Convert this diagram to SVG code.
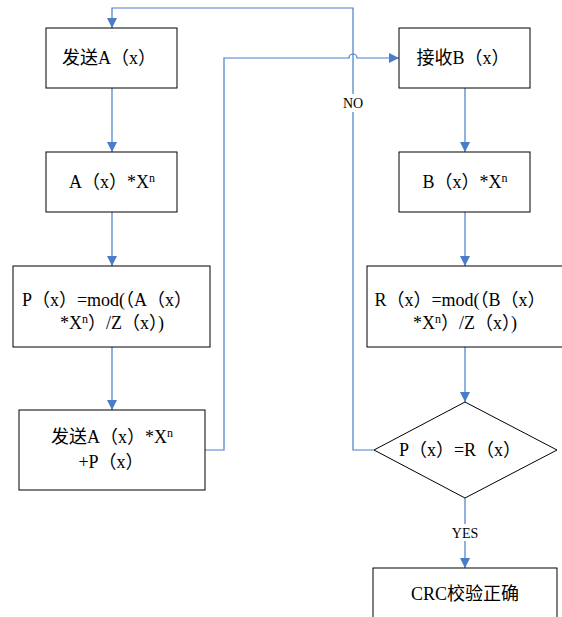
<svg xmlns="http://www.w3.org/2000/svg" width="562" height="617" viewBox="0 0 562 617">
<style>
.box{fill:#fff;stroke:#000;stroke-width:1}
.t{font-family:"Liberation Serif","Noto Sans CJK SC",serif;font-size:18px;fill:#000;text-anchor:middle}
.lbl{font-family:"Liberation Serif",serif;font-size:14px;fill:#000;text-anchor:middle}
.c{fill:none;stroke:#4a7cc9;stroke-width:1.2}
.sup{font-size:12px}
</style>
<defs>
<marker id="ah" viewBox="0 0 10 10" refX="10" refY="5" markerWidth="10" markerHeight="10" markerUnits="userSpaceOnUse" orient="auto">
<path d="M0,0 L10,5 L0,10 z" fill="#4a7cc9"/>
</marker>
</defs>
<rect width="562" height="617" fill="#fff"/>
<g id="connectors">
<path class="c" d="M112,88 V152" marker-end="url(#ah)"/>
<path class="c" d="M112,212 V266" marker-end="url(#ah)"/>
<path class="c" d="M112,347 V410" marker-end="url(#ah)"/>
<path class="c" d="M205,450 H224 V58 H349 A4,4 0 0 1 357,58 H399" marker-end="url(#ah)"/>
<path class="c" d="M374,450 H353 V8 H112 V28" marker-end="url(#ah)"/>
<path class="c" d="M465,88 V152" marker-end="url(#ah)"/>
<path class="c" d="M465,212 V266" marker-end="url(#ah)"/>
<path class="c" d="M465,347 V402" marker-end="url(#ah)"/>
<path class="c" d="M465,498 V568" marker-end="url(#ah)"/>
<rect x="338" y="94" width="30" height="18" fill="#fff"/>
<text class="lbl" x="353" y="108">NO</text>
<rect x="447" y="524" width="36" height="17" fill="#fff"/>
<text class="lbl" x="465" y="538">YES</text>
</g>
<g id="send">
<rect class="box" x="46" y="28" width="131" height="60"/>
<text class="t" x="109" y="64">发送A（x）</text>
</g>
<g id="axn">
<rect class="box" x="46" y="152" width="131" height="60"/>
<text class="t" x="112" y="188">A（x）*X<tspan class="sup" dy="-6">n</tspan></text>
</g>
<g id="px">
<rect class="box" x="13" y="266" width="197" height="81"/>
<text class="t" x="107" y="306">P（x）=mod(（A（x）</text>
<text class="t" x="112" y="329">*X<tspan class="sup" dy="-6">n</tspan><tspan dy="6">）/Z（x）)</tspan></text>
</g>
<g id="sendpx">
<rect class="box" x="19" y="410" width="186" height="80"/>
<text class="t" x="112" y="443">发送A（x）*X<tspan class="sup" dy="-6">n</tspan></text>
<text class="t" x="111" y="468">+P（x）</text>
</g>
<g id="recv">
<rect class="box" x="399" y="28" width="131" height="60"/>
<text class="t" x="463" y="64">接收B（x）</text>
</g>
<g id="bxn">
<rect class="box" x="399" y="152" width="131" height="60"/>
<text class="t" x="465" y="188">B（x）*X<tspan class="sup" dy="-6">n</tspan></text>
</g>
<g id="rx">
<rect class="box" x="367" y="266" width="200" height="81"/>
<text class="t" x="460" y="306">R（x）=mod(（B（x）</text>
<text class="t" x="465" y="329">*X<tspan class="sup" dy="-6">n</tspan><tspan dy="6">）/Z（x）)</tspan></text>
</g>
<g id="cmp">
<polygon class="box" points="465,402 557,450 465,498 374,450"/>
<text class="t" x="460" y="456">P（x）=R（x）</text>
</g>
<g id="ok">
<rect class="box" x="373" y="568" width="184" height="60"/>
<text class="t" x="465" y="600">CRC校验正确</text>
</g>
</svg>
